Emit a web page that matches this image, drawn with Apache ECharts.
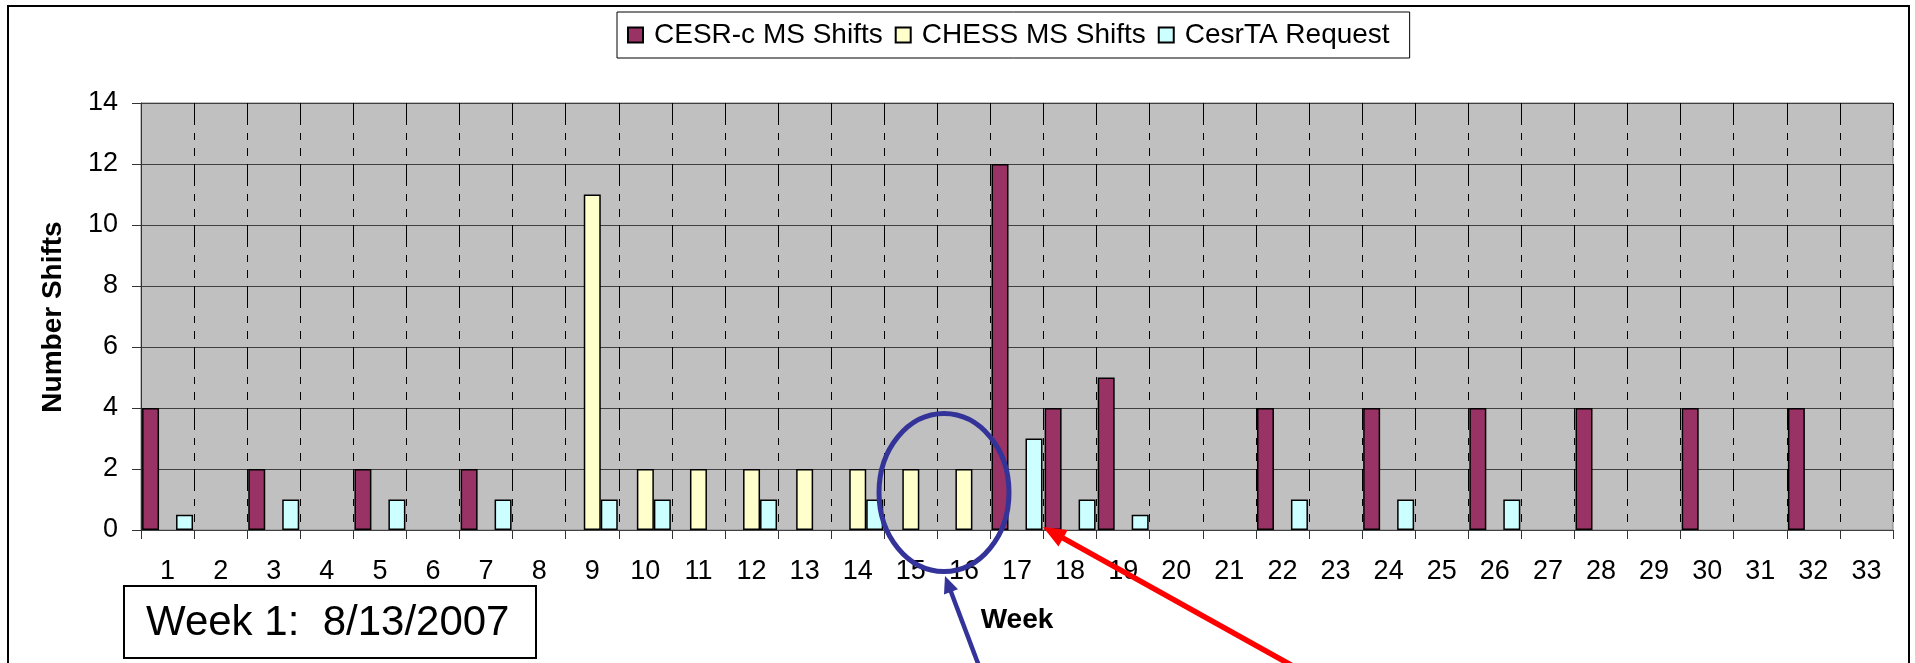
<!DOCTYPE html>
<html>
<head>
<meta charset="utf-8">
<script src="https://cdn.jsdelivr.net/npm/echarts@6/dist/echarts.min.js"></script>
<style>
  html, body { margin: 0; padding: 0; background: #fff; }
  #chart { width: 1915px; height: 663px; }
</style>
</head>
<body>
<div id="chart"></div>
<script>
  // weeks 1..33
  const weeks = ['1','2','3','4','5','6','7','8','9','10','11','12','13','14','15','16','17',
    '18','19','20','21','22','23','24','25','26','27','28','29','30','31','32','33'];
  const cesrcShifts = [4,0,2,0,2,0,2,0,0,0,0,0,0,0,0,0,12,4,5,0,0,4,0,4,0,4,0,4,0,4,0,4,0];
  const chessShifts = [0,0,0,0,0,0,0,0,11,2,2,2,2,2,2,2,0,0,0,0,0,0,0,0,0,0,0,0,0,0,0,0,0];
  const cesrtaRequest = [0.5,0,1,0,1,0,1,0,1,1,0,1,0,1,0,0,3,1,0.5,0,0,1,0,1,0,1,0,0,0,0,0,0,0];
  const seriesNames = ['CESR-c MS Shifts', 'CHESS MS Shifts', 'CesrTA Request'];
  const yTicks = [0, 14, 2]; // min, max, step

  const FONT = '"Liberation Sans", Arial, sans-serif';

  // zero weeks are drawn as nothing, like the original
  function toBars(arr) {
    return arr.map(v => (v === 0 ? '-' : v));
  }

  // simple arrow for the annotations: shaft + head
  function arrow(x1, y1, x2, y2, color, width, headLen, headW) {
    const dx = x2 - x1, dy = y2 - y1;
    const len = Math.sqrt(dx * dx + dy * dy);
    const ux = dx / len, uy = dy / len;
    const bx = x2 - ux * headLen, by = y2 - uy * headLen;
    const px = -uy * headW / 2, py = ux * headW / 2;
    return [
      {
        type: 'line', z: 100,
        shape: { x1: x1, y1: y1, x2: bx + ux * 2, y2: by + uy * 2 },
        style: { stroke: color, lineWidth: width }
      },
      {
        type: 'polygon', z: 100,
        shape: { points: [[x2, y2], [bx + px, by + py], [bx - px, by - py]] },
        style: { fill: color }
      }
    ];
  }

  let mychart = echarts.init(document.getElementById('chart'));
  let option = {
    backgroundColor: '#fff',
    animation: false,
    textStyle: { fontFamily: FONT, color: '#000' },
    legend: {
      data: seriesNames,
      left: 617,
      top: 12,
      padding: [9, 20, 9, 10],
      itemGap: 12,
      itemWidth: 15,
      itemHeight: 15,
      icon: 'rect',
      backgroundColor: '#fff',
      borderColor: '#000',
      borderWidth: 1,
      textStyle: { fontFamily: FONT, fontSize: 28, color: '#000', padding: [0, 0, 0, 6] }
    },
    grid: {
      left: 141,
      right: 22,
      top: 103,
      bottom: 133,
      show: true,
      backgroundColor: '#C0C0C0',
      borderColor: '#808080',
      borderWidth: 1,
      outerBoundsMode: 'none'
    },
    xAxis: {
      type: 'category',
      data: weeks,
      name: 'Week',
      nameLocation: 'middle',
      nameGap: 76,
      nameTextStyle: { fontFamily: FONT, fontSize: 28, fontWeight: 'bold', color: '#000' },
      axisLine: { lineStyle: { color: '#404040', width: 1 } },
      axisTick: { show: true, length: 9, lineStyle: { color: '#333' } },
      axisLabel: { interval: 0, fontSize: 27, color: '#000', margin: 28, fontFamily: FONT },
      splitLine: {
        show: true,
        interval: 0,
        lineStyle: { color: '#000', width: 1, type: [22, 8, 7, 8, 8, 8] }
      }
    },
    yAxis: {
      type: 'value',
      min: yTicks[0],
      max: yTicks[1],
      interval: yTicks[2],
      axisLine: { show: true, lineStyle: { color: '#333', width: 1 } },
      axisTick: { show: true, length: 9, lineStyle: { color: '#333' } },
      axisLabel: { fontSize: 27, color: '#000', margin: 23, fontFamily: FONT },
      splitLine: { show: true, lineStyle: { color: '#404040', width: 1 } }
    },
    series: [
      {
        name: seriesNames[0],
        type: 'bar',
        data: toBars(cesrcShifts),
        barGap: '0%',
        barCategoryGap: '4%',
        itemStyle: { color: '#993366', borderColor: '#000', borderWidth: 1.5 }
      },
      {
        name: seriesNames[1],
        type: 'bar',
        data: toBars(chessShifts),
        barGap: '0%',
        barCategoryGap: '4%',
        itemStyle: { color: '#FFFFCC', borderColor: '#000', borderWidth: 1.5 }
      },
      {
        name: seriesNames[2],
        type: 'bar',
        data: toBars(cesrtaRequest),
        barGap: '0%',
        barCategoryGap: '4%',
        itemStyle: { color: '#CCFFFF', borderColor: '#000', borderWidth: 1.5 }
      }
    ],
    graphic: [
      // outer chart frame
      {
        type: 'rect', z: 100,
        shape: { x: 8, y: 6, width: 1901, height: 700 },
        style: { fill: 'none', stroke: '#000', lineWidth: 2 }
      },
      // y axis title
      {
        type: 'text', z: 100,
        x: 53, y: 317, rotation: Math.PI / 2,
        style: {
          text: 'Number Shifts', font: 'bold 28px ' + FONT, fill: '#000',
          align: 'center', verticalAlign: 'middle'
        }
      },
      // date note box
      {
        type: 'rect', z: 100,
        shape: { x: 124, y: 586, width: 412, height: 72 },
        style: { fill: '#fff', stroke: '#000', lineWidth: 2 }
      },
      {
        type: 'text', z: 101,
        x: 146, y: 623,
        style: {
          text: 'Week 1:  8/13/2007', font: '42px ' + FONT, fill: '#000',
          align: 'left', verticalAlign: 'middle'
        }
      },
      // blue circle around weeks 15-16
      {
        type: 'ellipse', z: 100,
        shape: { cx: 944, cy: 492.5, rx: 65, ry: 79 },
        style: { fill: 'none', stroke: '#333399', lineWidth: 5 }
      }
    ]
      .concat(arrow(985, 682, 945, 576, '#333399', 4.5, 17, 15))
      .concat(arrow(1300, 670, 1043, 527, '#FF0000', 5.5, 23, 19))
  };
  mychart.setOption(option);
</script>
</body>
</html>
